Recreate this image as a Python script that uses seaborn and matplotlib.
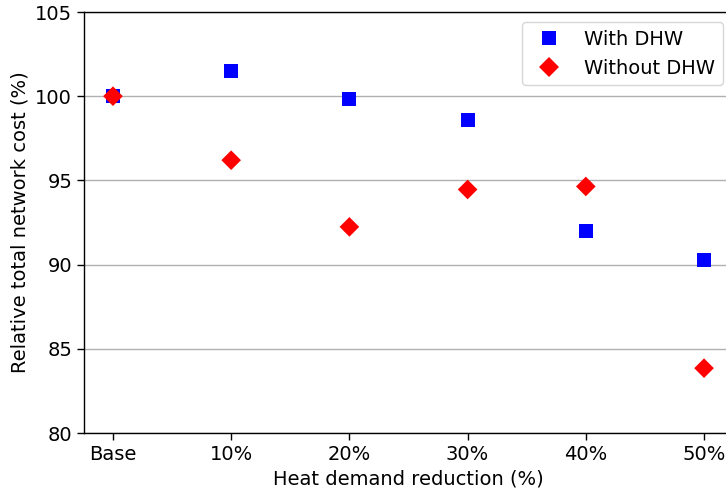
import matplotlib
matplotlib.use("Agg")
import matplotlib.pyplot as plt
import seaborn as sns
import pandas as pd

# Scenario categories and relative costs (% of base case)
scenarios = ["Base", "10%", "20%", "30%", "40%", "50%"]
with_dhw = [100.0, 101.48, 99.82, 98.57, 92.0, 90.26]
without_dhw = [100.0, 96.2, 92.24, 94.46, 94.64, 83.85]
series_names = ["With DHW", "Without DHW"]

df = pd.DataFrame({
    "scenario": scenarios * 2,
    "cost": with_dhw + without_dhw,
    "case": [series_names[0]] * len(scenarios) + [series_names[1]] * len(scenarios),
})

sns.set_style("ticks")
plt.rcParams["font.family"] = ["DejaVu Sans"]
plt.rcParams["text.color"] = "black"
plt.rcParams["axes.labelcolor"] = "black"
plt.rcParams["xtick.color"] = "black"
plt.rcParams["ytick.color"] = "black"

fig = plt.figure(figsize=(7.26, 4.94), dpi=100)
ax = fig.add_axes([84 / 726, 61 / 494, 649 / 726, 421 / 494])

sns.scatterplot(
    data=df, x="scenario", y="cost", hue="case", style="case",
    palette={series_names[0]: "blue", series_names[1]: "red"},
    markers={series_names[0]: "s", series_names[1]: "D"},
    s=100, linewidth=0, ax=ax, zorder=3,
)

ax.set_xlim(-0.245, 5.245)
ax.set_ylim(80, 105)
ax.set_yticks([80, 85, 90, 95, 100, 105])
ax.yaxis.grid(True, color="#b0b0b0", linewidth=1.0)
ax.set_axisbelow(True)
for side in ["left", "top", "bottom", "right"]:
    ax.spines[side].set_visible(True)
    ax.spines[side].set_color("black")
    ax.spines[side].set_linewidth(1.0)
ax.tick_params(axis="both", labelsize=14, length=5, width=1,
               color="black", labelcolor="black")
ax.set_xlabel("Heat demand reduction (%)", fontsize=14, color="black")
ax.set_ylabel("Relative total network cost (%)", fontsize=14, color="black")

handles, labels = ax.get_legend_handles_labels()
for h in handles:
    h.set_markersize(10)
leg = ax.legend(
    handles=handles, labels=labels, loc="upper right",
    bbox_to_anchor=(723 / 726, (494 - 22) / 494), bbox_transform=fig.transFigure,
    borderaxespad=0, fontsize=14, frameon=True, framealpha=0.8, edgecolor="0.8",
    fancybox=True,
)
for t in leg.get_texts():
    t.set_color("black")

fig.savefig("out.png", dpi=100)
